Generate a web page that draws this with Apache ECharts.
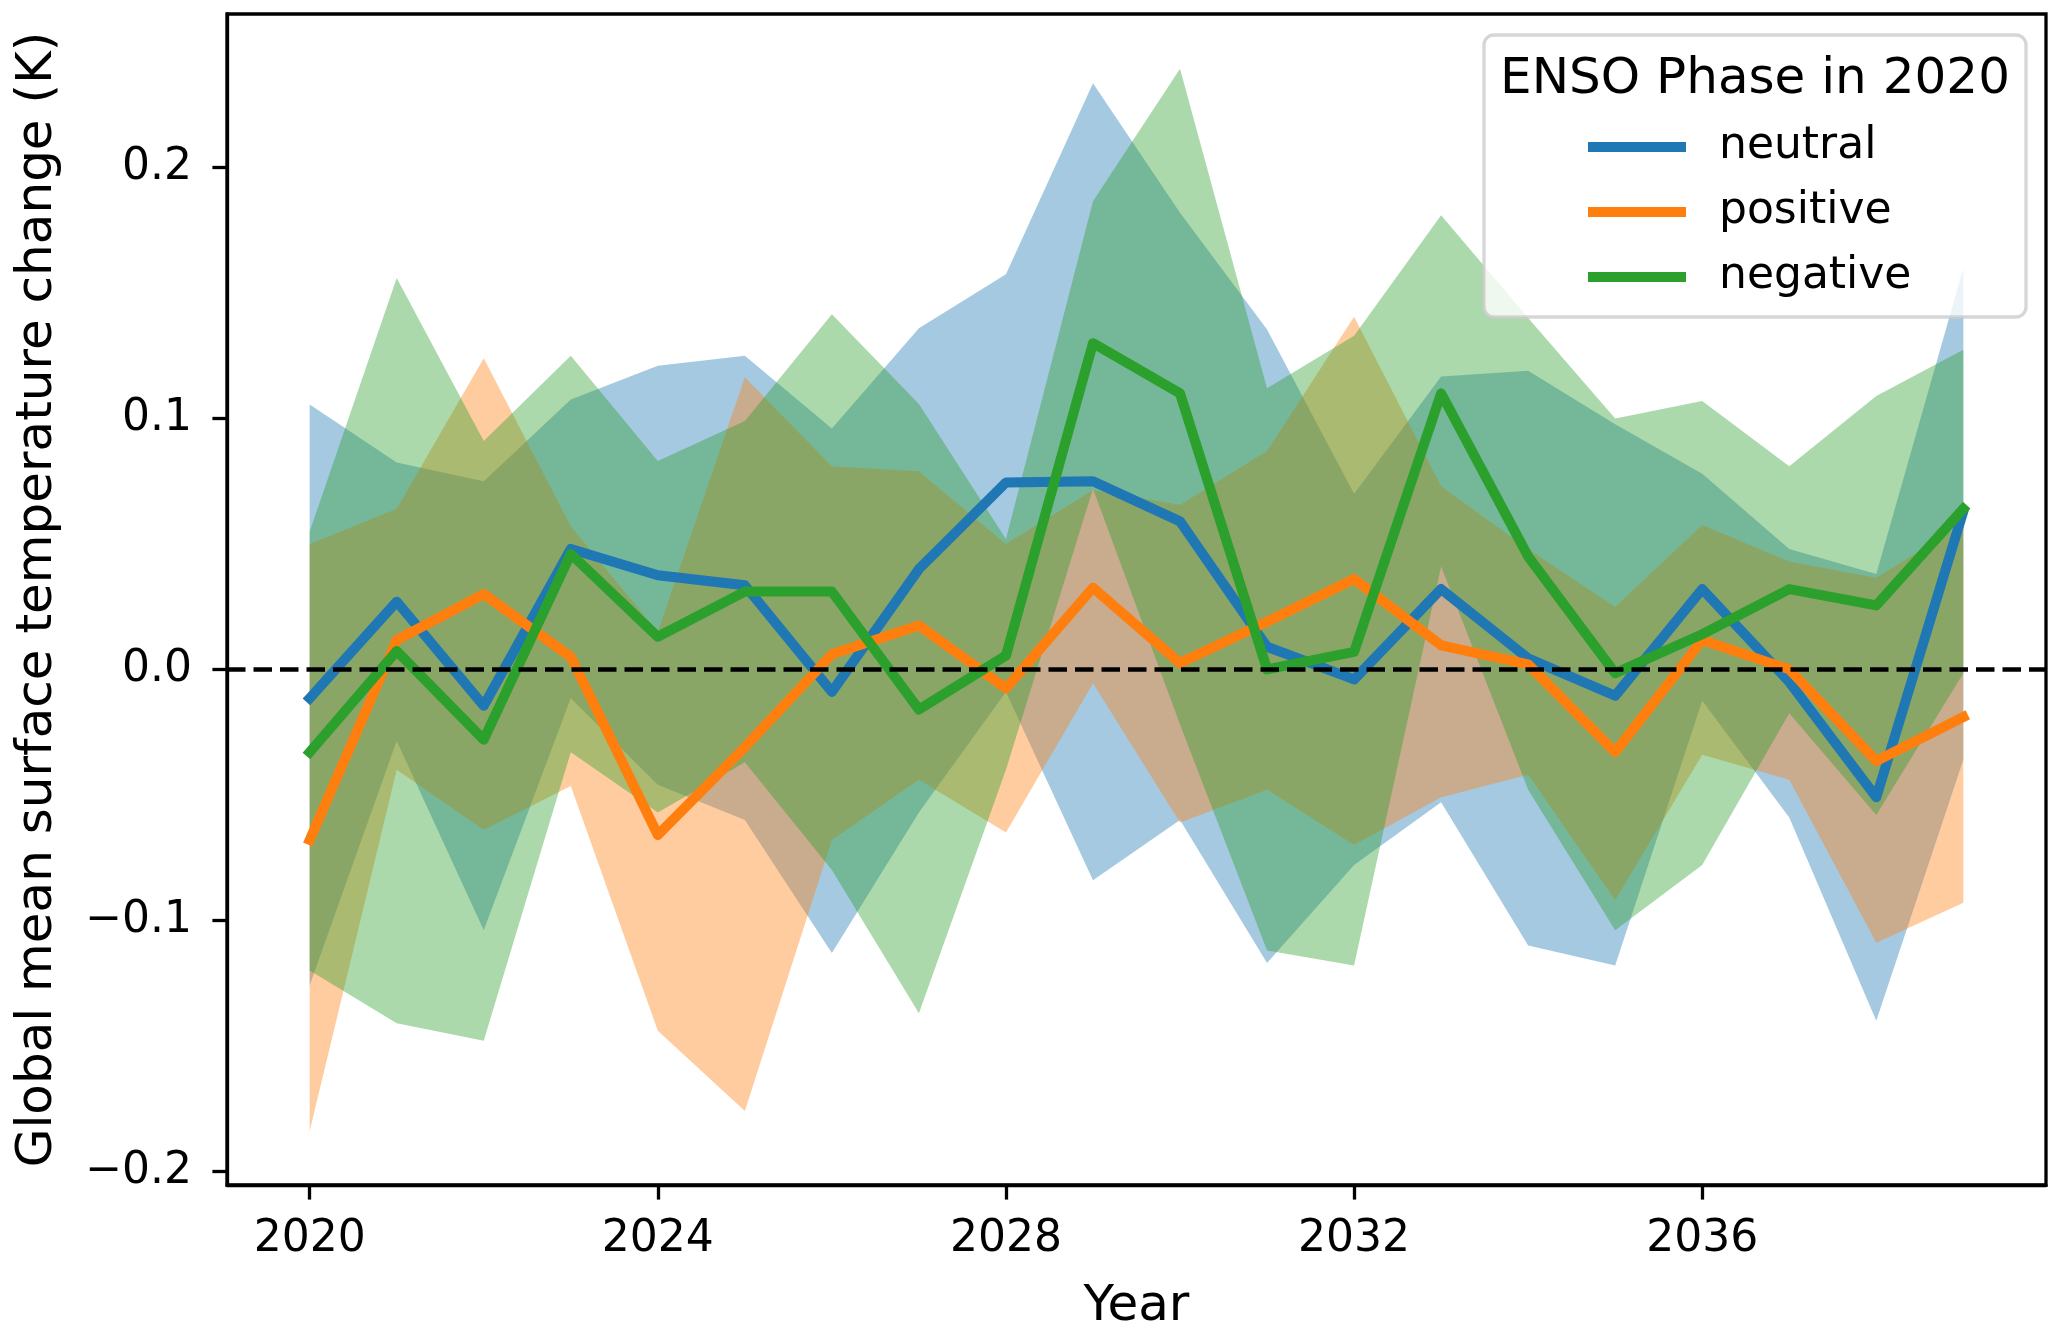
<!DOCTYPE html>
<html>
<head>
<meta charset="utf-8">
<script src="https://cdn.jsdelivr.net/npm/echarts@6/dist/echarts.min.js"></script>
<style>
html,body{margin:0;padding:0;background:#fff;}
#chart{width:2067px;height:1334px;}
</style>
</head>
<body>
<div id="chart"></div>
<script>
const years = [2020,2021,2022,2023,2024,2025,2026,2027,2028,2029,2030,2031,2032,2033,2034,2035,2036,2037,2038,2039];

const neutralMean  = [-0.0115,0.027,-0.0145,0.048,0.0375,0.0335,-0.009,0.040,0.0745,0.075,0.059,0.009,-0.004,0.032,0.0044,-0.0105,0.032,-0.005,-0.051,0.063];
const neutralUpper = [0.1056,0.0825,0.075,0.1076,0.121,0.125,0.096,0.136,0.1575,0.2336,0.182,0.1355,0.070,0.1167,0.119,0.0977,0.078,0.048,0.038,0.160];
const neutralLower = [-0.126,-0.0285,-0.104,-0.0115,-0.046,-0.060,-0.113,-0.057,-0.009,-0.084,-0.060,-0.117,-0.078,-0.053,-0.110,-0.118,-0.0125,-0.059,-0.140,-0.036];

const positiveMean  = [-0.068,0.0117,0.030,0.005,-0.066,-0.031,0.006,0.0175,-0.0075,0.0325,0.0025,0.019,0.036,0.0096,0.002,-0.033,0.0117,0.0,-0.0365,-0.019];
const positiveUpper = [0.050,0.064,0.124,0.057,0.015,0.1164,0.081,0.079,0.050,0.0715,0.0656,0.087,0.1405,0.073,0.048,0.025,0.0575,0.043,0.0365,0.058];
const positiveLower = [-0.184,-0.040,-0.064,-0.0465,-0.144,-0.176,-0.068,-0.044,-0.065,-0.0055,-0.061,-0.048,-0.070,-0.051,-0.042,-0.092,-0.034,-0.044,-0.109,-0.093];

const negativeMean  = [-0.033,0.0073,-0.028,0.046,0.013,0.031,0.031,-0.016,0.0055,0.130,0.110,0.0,0.007,0.110,0.045,-0.0015,0.014,0.032,0.0255,0.064];
const negativeUpper = [0.055,0.156,0.091,0.125,0.083,0.099,0.1415,0.1058,0.052,0.1866,0.2394,0.112,0.133,0.181,0.140,0.100,0.107,0.081,0.109,0.1274];
const negativeLower = [-0.120,-0.141,-0.148,-0.033,-0.057,-0.037,-0.080,-0.137,-0.040,0.072,-0.022,-0.112,-0.118,0.041,-0.048,-0.104,-0.078,-0.0175,-0.058,-0.0015];

const xTicks = [2020,2024,2028,2032,2036];
const yTicks = [-0.2,-0.1,0.0,0.1,0.2];

const phases = [
  {name:'neutral',  color:'#1f77b4', mean:neutralMean,  upper:neutralUpper,  lower:neutralLower},
  {name:'positive', color:'#ff7f0e', mean:positiveMean, upper:positiveUpper, lower:positiveLower},
  {name:'negative', color:'#2ca02c', mean:negativeMean, upper:negativeUpper, lower:negativeLower}
];

const FONT = 'DejaVu Sans';
const pairs = arr => years.map((y,i)=>[y, arr[i]]);

function bandRenderer(color) {
  return function (params, api) {
    if (params.dataIndexInside !== 0) return null;
    const n = params.dataInsideLength;
    const top = [], bottom = [];
    for (let i = 0; i < n; i++) {
      top.push(api.coord([api.value(0, i), api.value(2, i)]));
      bottom.push(api.coord([api.value(0, i), api.value(1, i)]));
    }
    const pts = top.concat(bottom.reverse());
    return {
      type:'polygon', shape:{points:pts},
      style:{fill:color, opacity:0.4}, silent:true
    };
  };
}

const series = [];
phases.forEach(p => {
  series.push({
    name: p.name + ' band', type:'custom',
    data: years.map((y,i)=>[y, p.lower[i], p.upper[i]]),
    encode:{x:0, y:[1,2]},
    renderItem: bandRenderer(p.color),
    z:1, silent:true, clip:true
  });
});
phases.forEach(p => {
  series.push({
    name: p.name, type:'line', data: pairs(p.mean),
    symbol:'none', color:p.color,
    itemStyle:{color:p.color},
    lineStyle:{color:p.color, width:10, join:'round', cap:'square'},
    z:3
  });
});
series[series.length-1].markLine = {
  silent:true, symbol:['none','none'], label:{show:false},
  lineStyle:{color:'#000', width:4.7, type:[18.5,8]},
  data:[{yAxis:0}]
};

const chart = echarts.init(document.getElementById('chart'), null, {renderer:'canvas'});
chart.setOption({
  animation:false,
  backgroundColor:'#fff',
  grid:{left:227, right:21, top:14, bottom:149, containLabel:false, outerBoundsMode:'none',
        show:true, borderColor:'#000', borderWidth:3.3, backgroundColor:'transparent'},
  xAxis:{
    type:'value', min:2019.05, max:2039.95,
    axisLine:{onZero:false, lineStyle:{color:'#000', width:3.3}},
    axisTick:{show:true, inside:false, length:14.6, lineStyle:{color:'#000', width:3.3}, customValues:xTicks},
    axisLabel:{customValues:xTicks, color:'#000', fontSize:44, fontFamily:FONT, margin:33, formatter:v=>String(v)},
    splitLine:{show:false},
    name:'Year', nameLocation:'middle', nameGap:97,
    nameTextStyle:{color:'#000', fontSize:50, fontFamily:FONT}
  },
  yAxis:{
    type:'value', min:-0.2055, max:0.2612,
    axisLine:{show:true, onZero:false, lineStyle:{color:'#000', width:3.3}},
    axisTick:{show:true, inside:false, length:14.6, lineStyle:{color:'#000', width:3.3}, customValues:yTicks},
    axisLabel:{customValues:yTicks, color:'#000', fontSize:44, fontFamily:FONT, margin:35,
      formatter:v => (v < -1e-9 ? '\u2212' : '') + Math.abs(v).toFixed(1)},
    splitLine:{show:false},
    name:'Global mean surface temperature change (K)', nameLocation:'middle', nameGap:164,
    nameTextStyle:{color:'#000', fontSize:50, fontFamily:FONT}
  },
  legend:{
    data:['neutral','positive','negative'],
    orient:'vertical', left:1583, top:120, itemGap:21,
    icon:'rect', itemWidth:98, itemHeight:10,
    selectedMode:false, z:60,
    textStyle:{color:'#000', fontSize:44, fontFamily:FONT, lineHeight:44, padding:[0,0,0,28]}
  },
  graphic:[
    {type:'rect', z:50, silent:true,
     shape:{x:1484, y:35, width:542, height:282, r:10},
     style:{fill:'rgba(255,255,255,0.8)', stroke:'rgba(204,204,204,0.8)', lineWidth:3.3}},
    {type:'text', z:51, silent:true, x:1755, y:80,
     style:{text:'ENSO Phase in 2020', fill:'#000', font:'50px "DejaVu Sans"', align:'center', verticalAlign:'middle'}}
  ],
  series: series
});
</script>
</body>
</html>
